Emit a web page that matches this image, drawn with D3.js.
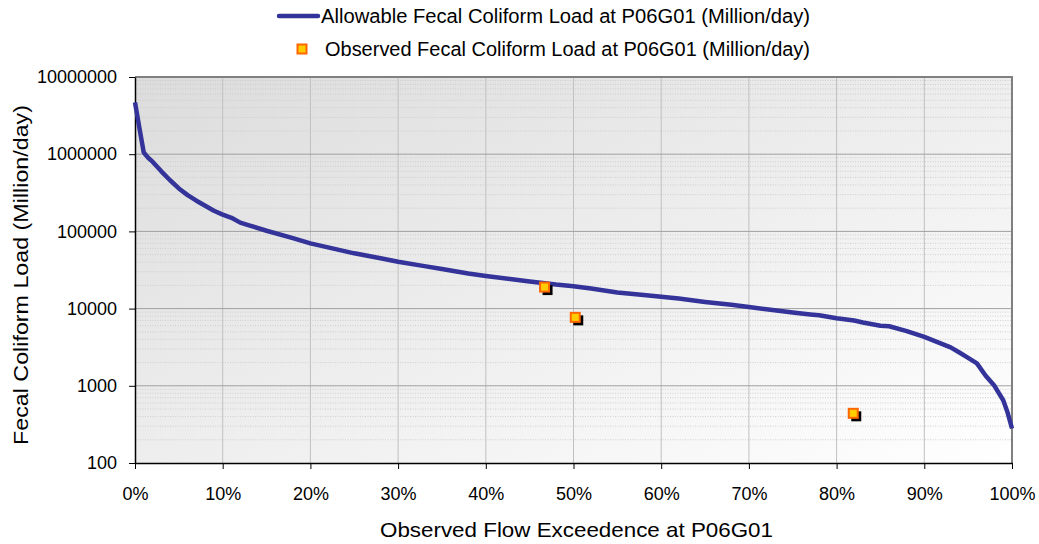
<!DOCTYPE html>
<html><head><meta charset="utf-8">
<script src="https://cdn.jsdelivr.net/npm/d3@7"></script>
<style>body{margin:0;background:#fff}text{font-family:"Liberation Sans",Arial,sans-serif}</style>
</head><body>
<svg id="c" width="1039" height="544"></svg>
<script>
const curvePct = [0,0.5,1,1.5,2,3,4,5,6,7,8,9,10,11,12,13,15,18,20,22,25,28,30,33,35,38,40,43,45,48,50,52,55,58,60,62,65,68,70,72,75,77,78,80,82,83,85,86,88,90,92,93,94,95,96,97,98,99,99.5,100];
const curveLoad = [4.7e6,2.2e6,1.05e6,9.0e5,8.0e5,6.0e5,4.6e5,3.6e5,2.95e5,2.5e5,2.15e5,1.85e5,1.65e5,1.5e5,1.3e5,1.2e5,1.02e5,8.2e4,7.0e4,6.2e4,5.2e4,4.5e4,4.05e4,3.55e4,3.25e4,2.85e4,2.65e4,2.4e4,2.25e4,2.05e4,1.95e4,1.82e4,1.62e4,1.5e4,1.42e4,1.35e4,1.22e4,1.12e4,1.05e4,9.8e3,8.9e3,8.4e3,8.2e3,7.5e3,7.0e3,6.6e3,6.0e3,5.9e3,5.1e3,4.3e3,3.5e3,3.15e3,2.7e3,2.3e3,1.95e3,1.35e3,1.0e3,6.5e2,4.5e2,2.8e2];
const obsPct = [46.7, 50.2, 81.9];
const obsLoad = [1.9e4, 7.7e3, 4.4e2];
const yTicks = [100,1000,10000,100000,1000000,10000000];
const xTicks = [0,10,20,30,40,50,60,70,80,90,100];
const legendLabels = ["Allowable Fecal Coliform Load at P06G01 (Million/day)","Observed Fecal Coliform Load at P06G01 (Million/day)"];
const xTitle = "Observed Flow Exceedence at P06G01";
const yTitle = "Fecal Coliform Load (Million/day)";

const svg = d3.select("#c");
const L=135, R=1012, T=77, B=463;
const x = d3.scaleLinear().domain([0,100]).range([L,R]);
const y = d3.scaleLog().domain([100,1e7]).range([B,T]);

const defs = svg.append("defs");
const g = defs.append("linearGradient").attr("id","bg").attr("x1","0").attr("y1","0").attr("x2","1").attr("y2","1");
g.append("stop").attr("offset","0").attr("stop-color","#dcdcdc");
g.append("stop").attr("offset","1").attr("stop-color","#ffffff");
svg.append("rect").attr("x",L).attr("y",T).attr("width",R-L).attr("height",B-T).attr("fill","url(#bg)");

// minor grid
const minors=[];
for(let d=100; d<1e7; d*=10) for(let k=2;k<=9;k++) minors.push(d*k);
svg.append("g").selectAll("line").data(minors).join("line")
 .attr("x1",L).attr("x2",R).attr("y1",d=>y(d)).attr("y2",d=>y(d))
 .attr("stroke","#c8c8c8").attr("stroke-width",0.8).attr("stroke-dasharray","1,1.5");
// vertical major
svg.append("g").selectAll("line").data(xTicks.slice(1,-1)).join("line")
 .attr("x1",d=>x(d)).attr("x2",d=>x(d)).attr("y1",T).attr("y2",B)
 .attr("stroke","#c0c0c0").attr("stroke-width",1);
// horizontal major
svg.append("g").selectAll("line").data(yTicks.slice(1,-1)).join("line")
 .attr("x1",L).attr("x2",R).attr("y1",d=>y(d)).attr("y2",d=>y(d))
 .attr("stroke","#a0a0a0").attr("stroke-width",1);
// border top/right
svg.append("path").attr("d",`M${L},${T}H${R}V${B}`).attr("fill","none").attr("stroke","#808080").attr("stroke-width",2);

// axes
const xa = svg.append("g").attr("transform",`translate(0,${B})`)
 .call(d3.axisBottom(x).tickValues(xTicks).tickFormat(d=>d+"%").tickSize(6).tickSizeOuter(0));
const ya = svg.append("g").attr("transform",`translate(${L},0)`)
 .call(d3.axisLeft(y).tickValues(yTicks).tickFormat(d3.format("d")).tickSize(6).tickSizeOuter(0));
[xa,ya].forEach(a=>{a.select(".domain").attr("stroke","#000").attr("stroke-width",1.5);
 a.selectAll(".tick line").attr("stroke","#000");
 a.selectAll("text").attr("font-size",18).attr("fill","#000").attr("font-family","Liberation Sans, Arial, sans-serif");});
xa.selectAll("text").attr("y",24);
ya.selectAll("text").attr("x",-18);

// curve
svg.append("path").datum(curvePct.map((p,i)=>[p,curveLoad[i]]))
 .attr("d",d3.line().x(d=>x(d[0])).y(d=>y(d[1])))
 .attr("fill","none").attr("stroke","#333399").attr("stroke-width",4.5).attr("stroke-linejoin","round");

// observed markers
const obs = obsPct.map((p,i)=>[p,obsLoad[i]]);
svg.append("g").selectAll("rect").data(obs).join("rect")
 .attr("x",d=>x(d[0])-5+3).attr("y",d=>y(d[1])-5+3).attr("width",10).attr("height",10).attr("fill","#000");
svg.append("g").selectAll("rect").data(obs).join("rect")
 .attr("x",d=>x(d[0])-4.5).attr("y",d=>y(d[1])-4.5).attr("width",9).attr("height",9)
 .attr("fill","#ffcc00").attr("stroke","#ff6600").attr("stroke-width",2);

// legend
const lg = svg.append("g");
lg.append("line").attr("x1",279).attr("x2",318).attr("y1",16).attr("y2",16).attr("stroke","#333399").attr("stroke-width",4.5).attr("stroke-linecap","round");
lg.append("text").attr("x",321).attr("y",23).attr("font-size",20).attr("textLength",489).attr("lengthAdjust","spacingAndGlyphs").text(legendLabels[0]);
lg.append("rect").attr("x",297.5).attr("y",44.5).attr("width",9).attr("height",9).attr("fill","#ffcc00").attr("stroke","#ff6600").attr("stroke-width",2);
lg.append("text").attr("x",325).attr("y",56).attr("font-size",20).attr("textLength",485).attr("lengthAdjust","spacingAndGlyphs").text(legendLabels[1]);

// titles
svg.append("text").attr("x",380).attr("y",537).attr("font-size",21).attr("textLength",393).attr("lengthAdjust","spacingAndGlyphs").text(xTitle);
svg.append("text").attr("transform","translate(28,445) rotate(-90)").attr("font-size",21).attr("textLength",340).attr("lengthAdjust","spacingAndGlyphs").text(yTitle);
</script>
</body></html>
